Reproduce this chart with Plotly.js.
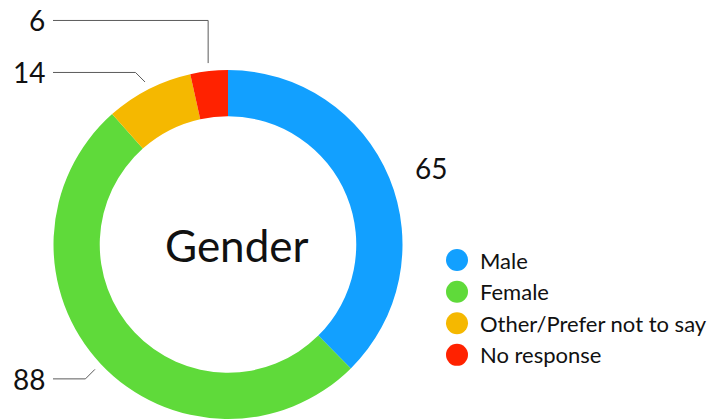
<!DOCTYPE html>
<html>
<head>
<meta charset="utf-8">
<script src="https://cdn.plot.ly/plotly-3.0.1.min.js"></script>
<style>html,body{margin:0;padding:0;background:#fff;}#chart{width:717px;height:419px;}</style>
</head>
<body>
<div id="chart"></div>
<script>
const categories = ["Male", "Female", "Other/Prefer not to say", "No response"];
const counts = [65, 88, 14, 6];
const sliceColors = ["#12a0ff", "#5fda3a", "#f5b800", "#ff2200"];
const centerTitle = "Gender";

const FONT = "Lato, 'Open Sans', sans-serif";
const W = 717, H = 419;
const M = {l: 0, r: 0, t: 70, b: 0};
const pieDomainX = [0, 456 / W];
const plotW = W - M.l - M.r, plotH = H - M.t - M.b;

// pie geometry as Plotly computes it from the domain
const cx = M.l + plotW * (pieDomainX[0] + pieDomainX[1]) / 2;
const cy = M.t + plotH / 2;
const R = Math.min(plotW * (pieDomainX[1] - pieDomainX[0]), plotH) / 2;

const toX = px => (px - M.l) / plotW;
const toY = py => (H - M.b - py) / plotH;

// label placement style
const lineGap = 8, diagStep = 9.5, leftTextEdge = 47, leftLineEnd = 53, minGap = 52, rightLabelR = 200;

const total = counts.reduce((a, b) => a + b, 0);
let cum = 0;
const slices = counts.map((v, i) => {
  const mid = (cum + v / 2) / total * 2 * Math.PI;
  cum += v;
  return {i, v, sin: Math.sin(mid), cos: Math.cos(mid)};
});

const annotations = [{
  text: centerTitle, showarrow: false,
  xref: "paper", yref: "paper",
  x: toX(cx + 9), y: toY(cy), xanchor: "center", yanchor: "middle",
  font: {family: FONT, size: 44, color: "#111"}
}];
const shapes = [];

// left-side labels: sorted bottom to top, pushed up to avoid overlaps
const left = slices.filter(s => s.sin < 0).map(s => {
  const sx = cx + (R + lineGap) * s.sin, sy = cy - (R + lineGap) * s.cos;
  const ex = sx - diagStep, ey = sy + (s.cos < 0 ? diagStep : -diagStep);
  return Object.assign(s, {sx, sy, ex, ey, ly: ey});
}).sort((a, b) => b.ly - a.ly);
let prevY = Infinity;
left.forEach(s => {
  if (s.ly > prevY - minGap) { s.ly = prevY - minGap; s.pushed = true; }
  prevY = s.ly;
  let path;
  if (s.pushed) {
    path = `M${toX(s.sx)},${toY(s.sy)} L${toX(s.sx)},${toY(s.ly)} L${toX(leftLineEnd)},${toY(s.ly)}`;
  } else {
    path = `M${toX(s.sx)},${toY(s.sy)} L${toX(s.ex)},${toY(s.ly)} L${toX(leftLineEnd)},${toY(s.ly)}`;
  }
  shapes.push({type: "path", xref: "paper", yref: "paper", path, line: {color: "#5a5a5a", width: 1}});
  annotations.push({
    text: String(s.v), showarrow: false, xref: "paper", yref: "paper",
    x: toX(leftTextEdge), y: toY(s.ly), xanchor: "right", yanchor: "middle",
    font: {family: FONT, size: 28, color: "#111"}
  });
});

// right-side labels: placed radially, no leader line
slices.filter(s => s.sin >= 0).forEach(s => {
  annotations.push({
    text: String(s.v), showarrow: false, xref: "paper", yref: "paper",
    x: toX(cx + rightLabelR * s.sin), y: toY(cy - rightLabelR * s.cos),
    xanchor: "left", yanchor: "middle",
    font: {family: FONT, size: 28, color: "#111"}
  });
});

const pie = {
  type: "pie",
  labels: categories,
  values: counts,
  sort: false,
  direction: "clockwise",
  rotation: 0,
  hole: 0.735,
  marker: {colors: sliceColors, line: {width: 0}},
  textinfo: "none",
  domain: {x: pieDomainX, y: [0, 1]},
  showlegend: true,
  hoverinfo: "label+value"
};

const layout = {
  width: W, height: H,
  margin: M,
  paper_bgcolor: "#fff",
  font: {family: FONT, color: "#111"},
  showlegend: true,
  legend: {
    x: 437 / W, xanchor: "left", y: 0.515, yanchor: "top",
    font: {family: FONT, size: 22, color: "#111"},
    traceorder: "normal",
    tracegroupgap: 0
  },
  annotations,
  shapes
};

Plotly.newPlot("chart", [pie], layout, {displayModeBar: false, staticPlot: true}).then(function () {
  document.querySelectorAll(".legendpoints path").forEach(function (p) {
    p.setAttribute("d", "M11,0A11,11 0 1,1 -11,0A11,11 0 1,1 11,0Z");
  });
  document.querySelectorAll(".legendtext").forEach(function (t) {
    t.setAttribute("x", 43);
  });
});
</script>
</body>
</html>
